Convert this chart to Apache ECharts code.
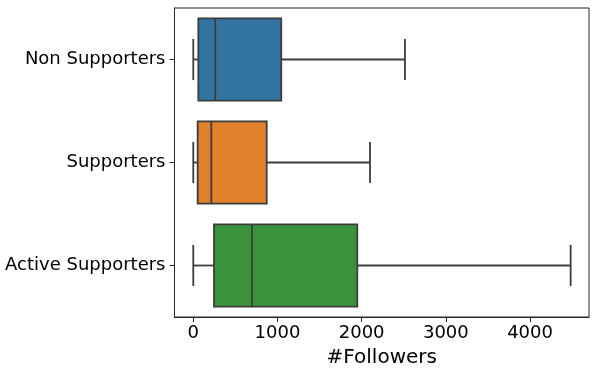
<!DOCTYPE html>
<html>
<head>
<meta charset="utf-8">
<script src="https://cdn.jsdelivr.net/npm/echarts@6/dist/echarts.min.js"></script>
<style>
  html, body { margin: 0; padding: 0; background: #fff; }
  #chart-container { width: 598px; height: 374px; }
</style>
</head>
<body>
<div id="chart-container"></div>
<script>
// groups, top to bottom
const categories = ['Non Supporters', 'Supporters', 'Active Supporters'];
// [whisker low, Q1, median, Q3, whisker high]
const nonSupporters = [0, 60, 261, 1045, 2514];
const supporters = [0, 52, 214, 872, 2099];
const activeSupporters = [0, 246, 697, 1948, 4482];
const colors = ['#3274a1', '#e1812c', '#3a923a'];
const xTicks = [0, 1000, 2000, 3000, 4000];

const boxes = [nonSupporters, supporters, activeSupporters];
const edge = '#3d3d3d';

function renderBox(params, api) {
  const i = api.value(0);
  const vals = [api.value(1), api.value(2), api.value(3), api.value(4), api.value(5)];
  const y = api.coord([0, i])[1];
  const band = api.size([0, 1])[1];
  const half = band * 0.4;
  const cap = band * 0.2;
  const x = vals.map(v => api.coord([v, i])[0]);
  const line = { stroke: edge, lineWidth: 1.8 };
  return {
    type: 'group',
    children: [
      { type: 'line', shape: { x1: x[0], y1: y, x2: x[1], y2: y }, style: line },
      { type: 'line', shape: { x1: x[3], y1: y, x2: x[4], y2: y }, style: line },
      { type: 'line', shape: { x1: x[0], y1: y - cap, x2: x[0], y2: y + cap }, style: line },
      { type: 'line', shape: { x1: x[4], y1: y - cap, x2: x[4], y2: y + cap }, style: line },
      { type: 'rect', shape: { x: x[1], y: y - half, width: x[3] - x[1], height: half * 2 },
        style: { fill: colors[i], stroke: edge, lineWidth: 1.8 } },
      { type: 'line', shape: { x1: x[2], y1: y - half, x2: x[2], y2: y + half }, style: line }
    ]
  };
}

const chart = echarts.init(document.getElementById('chart-container'));
chart.setOption({
  animation: false,
  textStyle: { fontFamily: 'DejaVu Sans' },
  grid: {
    left: 174.5, right: 9, top: 8, bottom: 57,
    show: true, borderColor: '#262626', borderWidth: 1
  },
  xAxis: {
    type: 'value',
    min: -223,
    max: 4700,
    name: '#Followers',
    nameLocation: 'middle',
    nameGap: 31,
    nameTextStyle: { fontSize: 20, color: '#000', fontFamily: 'DejaVu Sans' },
    splitLine: { show: false },
    axisLine: { show: true, lineStyle: { color: '#262626', width: 1 } },
    axisTick: { show: true, customValues: xTicks, length: 5, lineStyle: { color: '#262626' } },
    axisLabel: { customValues: xTicks, fontSize: 18, color: '#000', margin: 7,
      formatter: v => String(v) }
  },
  yAxis: {
    type: 'category',
    data: categories,
    inverse: true,
    axisLine: { show: true, onZero: false, lineStyle: { color: '#262626', width: 1 } },
    axisTick: { show: true, alignWithLabel: true, length: 5, lineStyle: { color: '#262626' } },
    axisLabel: { fontSize: 18, color: '#000', margin: 9 },
    splitLine: { show: false }
  },
  series: [{
    type: 'custom',
    renderItem: renderBox,
    encode: { x: [1, 2, 3, 4, 5], y: 0 },
    data: boxes.map((b, i) => [i].concat(b))
  }]
});
</script>
</body>
</html>
